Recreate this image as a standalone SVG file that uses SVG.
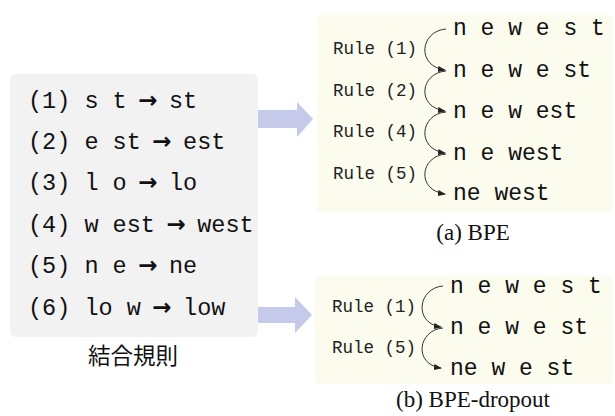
<svg xmlns="http://www.w3.org/2000/svg" width="615" height="416" viewBox="0 0 615 416">
  <style>
    .mono { font-family: "Liberation Mono", "Courier New", monospace; fill: #111; }
    .rule-list { font-size: 23.5px; }
    .arrow { font-family: "DejaVu Sans", sans-serif; font-weight: bold; font-size: 23px; }
    .word { font-size: 23px; }
    .rule { font-size: 17.5px; fill: #222; }
    .caption { font-family: "Liberation Serif", "Times New Roman", serif; font-size: 23px; fill: #111; text-anchor: middle; }
    .cjk { font-family: "Noto Sans CJK JP", "Noto Sans CJK SC", sans-serif; font-size: 22.5px; fill: #111; text-anchor: middle; }
    .step { fill: none; stroke: #333; stroke-width: 1; }
    .block { fill: #c5c9ea; }
  </style>
  <defs>
    <marker id="tip" viewBox="0 0 8 6" refX="7" refY="3" markerWidth="8" markerHeight="6" markerUnits="userSpaceOnUse" orient="auto">
      <path d="M0,0 L8,3 L0,6 Z" fill="#222"/>
    </marker>
  </defs>

  <!-- merge rules panel: monospace cells of 14.1px, arrow centred in its cell -->
  <g id="merge-rules">
    <rect x="10" y="74" width="248" height="263" rx="6" fill="#f2f2f2"/>
    <text class="mono rule-list" y="108"><tspan x="28">(1) s t</tspan><tspan class="arrow" x="138.2">→</tspan><tspan x="169">st</tspan></text>
    <text class="mono rule-list" y="149"><tspan x="28">(2) e st</tspan><tspan class="arrow" x="152.3">→</tspan><tspan x="183.1">est</tspan></text>
    <text class="mono rule-list" y="190"><tspan x="28">(3) l o</tspan><tspan class="arrow" x="138.2">→</tspan><tspan x="169">lo</tspan></text>
    <text class="mono rule-list" y="232"><tspan x="28">(4) w est</tspan><tspan class="arrow" x="166.4">→</tspan><tspan x="197.2">west</tspan></text>
    <text class="mono rule-list" y="273"><tspan x="28">(5) n e</tspan><tspan class="arrow" x="138.2">→</tspan><tspan x="169">ne</tspan></text>
    <text class="mono rule-list" y="315"><tspan x="28">(6) lo w</tspan><tspan class="arrow" x="152.3">→</tspan><tspan x="183.1">low</tspan></text>
    <text class="cjk" x="133" y="364">結合規則</text>
  </g>

  <!-- BPE panel -->
  <g id="bpe">
    <rect x="317" y="15" width="296" height="197" rx="4" fill="#fbfcee"/>
    <text class="mono word" x="453" y="35">n e w e s t</text>
    <text class="mono word" x="453" y="77">n e w e st</text>
    <text class="mono word" x="453" y="118">n e w est</text>
    <text class="mono word" x="453" y="160">n e west</text>
    <text class="mono word" x="453" y="200">ne west</text>
    <text class="mono rule" x="333" y="54">Rule (1)</text>
    <text class="mono rule" x="333" y="96">Rule (2)</text>
    <text class="mono rule" x="333" y="137">Rule (4)</text>
    <text class="mono rule" x="333" y="179">Rule (5)</text>
    <text class="caption" x="473" y="240">(a) BPE</text>
  </g>

  <!-- BPE-dropout panel -->
  <g id="bpe-dropout">
    <rect x="315" y="276" width="298" height="108" rx="4" fill="#fbfcee"/>
    <text class="mono word" x="450" y="293">n e w e s t</text>
    <text class="mono word" x="450" y="334">n e w e st</text>
    <text class="mono word" x="450" y="375">ne w e st</text>
    <text class="mono rule" x="332" y="312">Rule (1)</text>
    <text class="mono rule" x="332" y="353">Rule (5)</text>
    <text class="caption" x="473" y="407">(b) BPE-dropout</text>
  </g>

  <!-- connectors -->
  <g id="connectors">
    <path class="block" d="M258,110 H297 V102 L313,119 L297,137 V128 H258 Z"/>
    <path class="block" d="M258,307 H295 V297 L312,315 L295,333 V323 H258 Z"/>

    <path class="step" marker-end="url(#tip)" d="M446,29 C420,31 416,66 445,70"/>
    <path class="step" marker-end="url(#tip)" d="M446,71 C420,73 416,107 445,111"/>
    <path class="step" marker-end="url(#tip)" d="M446,112 C420,114 416,149 445,153"/>
    <path class="step" marker-end="url(#tip)" d="M446,154 C420,156 416,190 445,194"/>

    <path class="step" marker-end="url(#tip)" d="M443,286 C418,288 413,323 441,327"/>
    <path class="step" marker-end="url(#tip)" d="M443,328 C418,330 413,364 441,368"/>
  </g>
</svg>
